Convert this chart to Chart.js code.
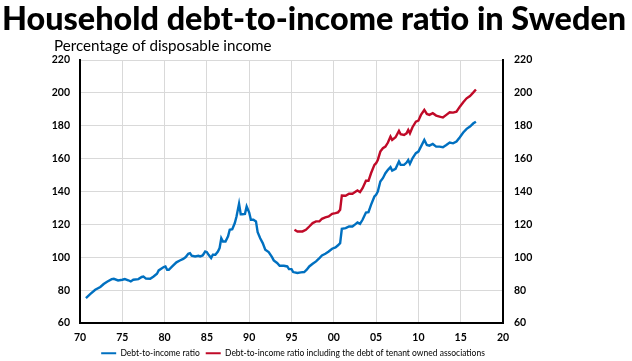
<!DOCTYPE html>
<html>
<head>
<meta charset="utf-8">
<script src="https://cdn.jsdelivr.net/npm/chart.js@4"></script>
<style>
  body { margin: 0; background: #fff; }
  #wrap { position: relative; width: 632px; height: 361px; }
  #title { position: absolute; left: 2px; top: 2px; font-family: Lato; font-weight: 900; line-height: 1; white-space: nowrap; color: #000; }
  #sub { position: absolute; left: 54px; top: 38px; font-family: Lato; line-height: 1; white-space: nowrap; color: #000; }
  canvas { position: absolute; left: 0; top: 0; }
</style>
</head>
<body>
<div id="wrap">
  <canvas id="myChart" width="632" height="361"></canvas>
  <div id="title">Household debt-to-income ratio in Sweden</div>
  <div id="sub">Percentage of disposable income</div>
</div>
<script>
// values (year, percent)
const blueYears = [1970.7,1971.2,1971.8,1972.4,1972.8,1973.2,1973.75,1974.0,1974.5,1975.0,1975.3,1975.7,1976.0,1976.3,1976.9,1977.3,1977.5,1977.8,1978.3,1978.7,1979.1,1979.3,1979.9,1980.1,1980.3,1980.5,1980.9,1981.4,1981.8,1982.2,1982.5,1982.8,1983.0,1983.2,1983.6,1984.0,1984.2,1984.5,1984.8,1985.0,1985.2,1985.5,1985.7,1986.0,1986.3,1986.5,1986.7,1986.9,1987.2,1987.5,1987.7,1988.0,1988.3,1988.5,1988.8,1989.0,1989.2,1989.5,1989.7,1990.0,1990.2,1990.5,1990.8,1991.0,1991.3,1991.6,1991.9,1992.3,1992.7,1992.9,1993.3,1993.6,1994.1,1994.5,1994.7,1995.0,1995.2,1995.7,1996.1,1996.5,1996.8,1997.1,1997.5,1997.9,1998.3,1998.6,1999.0,1999.4,1999.8,2000.2,2000.5,2000.75,2000.95,2001.4,2001.8,2002.2,2002.6,2002.8,2003.1,2003.4,2003.8,2004.1,2004.4,2004.8,2005.0,2005.2,2005.5,2005.8,2006.1,2006.4,2006.7,2006.9,2007.3,2007.7,2007.9,2008.3,2008.6,2008.8,2009.0,2009.3,2009.7,2010.0,2010.3,2010.7,2011.0,2011.3,2011.7,2012.1,2012.5,2012.9,2013.3,2013.7,2014.1,2014.5,2014.9,2015.3,2015.7,2016.1,2016.5,2016.8];
const blueVals = [75.2,77.6,80.2,81.9,83.7,85.1,86.7,86.9,85.9,86.3,86.7,86.0,85.3,86.3,86.7,88.0,88.3,87.0,86.9,88.3,90.0,92.0,94.0,94.4,92.4,92.4,94.4,96.9,98.0,99.0,100.1,102.1,102.5,100.9,100.5,100.9,100.5,101.1,103.5,103.1,101.5,99.5,101.5,101.5,103.5,105.6,111.6,109.6,109.6,112.7,116.7,117.1,120.8,124.8,132.5,126.2,126.2,126.4,130.9,127.2,122.8,122.8,121.8,115.3,111.6,108.6,104.6,103.1,100.1,98.1,96.5,94.8,94.8,94.4,92.8,92.8,91.0,90.4,90.8,91.0,92.4,94.4,96.0,97.5,99.5,101.1,102.1,103.5,105.2,106.0,107.3,108.6,117.3,117.7,118.7,118.7,120.3,121.2,120.3,122.8,127.2,127.4,131.9,137.0,138.0,140.0,146.1,148.1,151.1,153.2,154.8,152.7,153.8,158.2,156.2,156.2,157.6,159.2,156.8,160.2,163.3,164.3,167.3,171.4,168.3,167.9,168.9,167.3,167.3,166.9,168.3,169.8,169.3,170.4,173.0,175.9,178.1,179.5,181.5,182.5];

const redYears = [1995.35,1995.7,1996.3,1996.7,1997.1,1997.5,1997.9,1998.3,1998.6,1999.0,1999.4,1999.8,2000.2,2000.5,2000.75,2000.95,2001.4,2001.8,2002.2,2002.6,2002.8,2003.1,2003.4,2003.8,2004.1,2004.4,2004.8,2005.0,2005.2,2005.5,2005.8,2006.1,2006.4,2006.7,2006.9,2007.3,2007.7,2007.9,2008.3,2008.6,2008.8,2009.0,2009.3,2009.7,2010.0,2010.3,2010.7,2011.0,2011.3,2011.7,2012.1,2012.5,2012.9,2013.3,2013.7,2014.1,2014.5,2014.9,2015.3,2015.7,2016.1,2016.5,2016.8];
const redVals = [116.7,115.7,115.7,116.7,118.7,120.8,121.8,121.8,123.4,124.2,124.8,126.4,126.8,127.3,128.9,137.6,137.4,138.6,138.6,140.0,140.6,139.6,142.0,146.5,146.5,151.1,156.2,157.2,159.2,164.3,166.3,167.3,169.8,173.4,171.4,173.0,176.9,174.8,174.4,175.4,177.5,175.4,179.1,182.5,183.1,186.6,189.6,187.2,186.6,187.6,186.2,185.6,185.0,186.6,188.2,188.0,188.6,191.6,194.3,196.7,198.1,200.3,202.1];

const seriesLabels = ['Debt-to-income ratio', 'Debt-to-income ratio including the debt of tenant owned associations'];

// fit title / subtitle widths to the reference
function fitFont(el, weight, target) {
    const c = document.createElement('canvas').getContext('2d');
    c.font = weight + ' 100px Lato';
    const w = c.measureText(el.textContent).width;
    el.style.fontSize = (100 * target / w).toFixed(2) + 'px';
}
fitFont(document.getElementById('title'), '900', 624);
fitFont(document.getElementById('sub'), 'normal', 218);

const blue = '#0070c0';
const red = '#c00a28';
const tickFont = { family: 'Lato', size: 10.5, weight: 'bold' };
const gridColor = '#d9d9d9';

const canvas = document.getElementById('myChart');
const ctx = canvas.getContext('2d');

// legend boxes drawn as plain 15x2 line swatches
const legendItems = (chart) =>
    Chart.defaults.plugins.legend.labels.generateLabels(chart)
        .map(l => Object.assign(l, { lineWidth: 0 }));

const myChart = new Chart(ctx, {
    type: 'line',
    data: {
        datasets: [
            {
                label: seriesLabels[0],
                data: blueYears.map((x, i) => ({ x: x, y: blueVals[i] })),
                borderColor: blue,
                backgroundColor: blue,
                borderWidth: 2.4,
                pointRadius: 0,
                tension: 0
            },
            {
                label: seriesLabels[1],
                data: redYears.map((x, i) => ({ x: x, y: redVals[i] })),
                borderColor: red,
                backgroundColor: red,
                borderWidth: 2.4,
                pointRadius: 0,
                tension: 0
            }
        ]
    },
    options: {
        responsive: false,
        animation: false,
        layout: { padding: { top: 60, left: 0, right: 46, bottom: 0 } },
        plugins: {
            tooltip: { enabled: false },
            legend: {
                position: 'bottom',
                maxHeight: 18,
                labels: {
                    boxWidth: 15,
                    boxHeight: 2,
                    padding: 6,
                    color: '#000',
                    font: { family: 'Lato', size: 8.5 },
                    generateLabels: legendItems
                }
            }
        },
        scales: {
            x: {
                type: 'linear',
                min: 1970,
                max: 2020,
                afterFit: (s) => { s.height = 20; },
                ticks: {
                    stepSize: 5,
                    padding: 8,
                    color: '#000',
                    font: tickFont,
                    maxRotation: 0,
                    callback: (v) => String(v % 100).padStart(2, '0')
                },
                grid: { color: gridColor, drawTicks: false },
                border: { color: '#000', width: 2 }
            },
            y: {
                position: 'left',
                min: 60,
                max: 220,
                afterFit: (s) => { s.width = 80; },
                ticks: { stepSize: 20, padding: 10, color: '#000', font: tickFont },
                grid: { color: gridColor, drawTicks: false },
                border: { color: '#000', width: 2 }
            },
            y2: {
                position: 'right',
                min: 60,
                max: 220,
                afterFit: (s) => { s.width = 83; },
                ticks: { stepSize: 20, padding: 11, color: '#000', font: tickFont },
                grid: { display: false, drawTicks: false },
                border: { color: '#000', width: 2 }
            }
        }
    }
});
</script>
</body>
</html>
